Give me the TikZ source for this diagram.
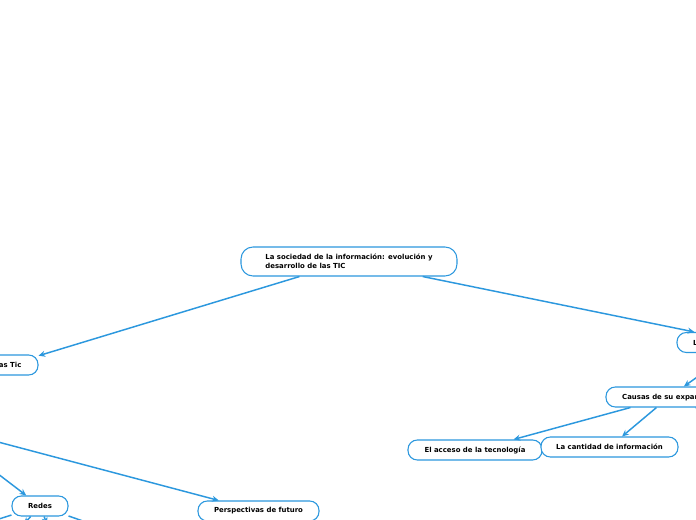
\documentclass[tikz,border=0pt]{standalone}
\usepackage{fontspec}
\setmainfont{DejaVu Sans}
\usetikzlibrary{arrows.meta}
\definecolor{mmblue}{RGB}{44,152,222}
\tikzset{
  topic/.style={draw=mmblue, line width=0.8pt, fill=white, rounded corners=7pt,
    minimum height=15pt, inner ysep=1pt, font=\fontsize{5.2}{6.8}\selectfont\bfseries, text=black},
  link/.style={draw=mmblue, line width=1.1pt, -{Stealth[length=5pt,width=4.5pt]}},
  plain/.style={draw=mmblue, line width=1.1pt}
}
\begin{document}
\begin{tikzpicture}[x=0.75pt,y=-0.75pt]
\useasboundingbox (0,0) rectangle (696,520);
\clip (0,0) rectangle (696,520);
\fill[white] (0,0) rectangle (696,520);
% nodes
\node[topic, rounded corners=9pt, minimum width=162pt, minimum height=21.75pt, align=left] (root) at (349,261.5)
  {La sociedad de la información: evolución y\\desarrollo de las TIC};
\node[topic, minimum width=45pt] (lastic) at (8,365) {Las Tic};
\node[topic, text width=79.5pt, inner xsep=12pt, align=left] (lnode) at (746,342.5) {L};
\node[topic, minimum width=94.5pt] (causas) at (669,397) {Causas de su expansión};
\node[topic, minimum width=100.5pt] (acceso) at (475,450) {El acceso de la tecnología};
\node[topic, minimum width=102.75pt] (cantidad) at (609.5,447) {La cantidad de información};
\node[topic, minimum width=42pt] (redes) at (40,506) {Redes};
\node[topic, minimum width=90.75pt] (persp) at (258.5,511) {Perspectivas de futuro};
\node[topic, minimum width=60pt] (parentl) at (-66,425) {};
% free ends below / right of the frame
\coordinate (r1) at (-20,525);
\coordinate (r2) at (24,524);
\coordinate (r3) at (47,524);
\coordinate (r4) at (100,527);
\coordinate (c3) at (760,433);
% connectors
\draw[link] (root) -- (lastic);
\draw[link] (root) -- (lnode);
\draw[link] (lnode) -- (causas);
\draw[link] (causas) -- (acceso);
\draw[link] (causas) -- (cantidad);
\draw[link] (causas) -- (c3);
\draw[link] (parentl) -- (persp);
\draw[link] (parentl) -- (redes);
\draw[link] (redes) -- (r1);
\draw[link] (redes) -- (r2);
\draw[link] (redes) -- (r3);
\draw[link] (redes) -- (r4);
\end{tikzpicture}
\end{document}
